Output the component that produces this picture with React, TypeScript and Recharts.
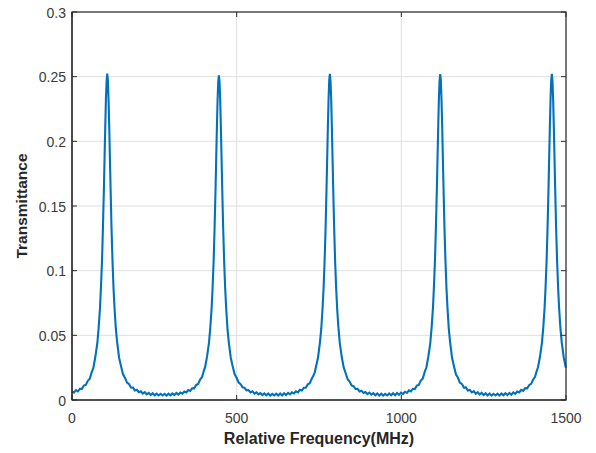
import React from 'react';
import { LineChart, Line, XAxis, YAxis, CartesianGrid, Label } from 'recharts';

// [relative frequency (MHz), transmittance], one list per resonance
const PEAK_1: [number, number][] = [
  [0, 0.0067], [6, 0.0057], [12, 0.0076], [18, 0.0067], [24, 0.0086], [30, 0.0086], [36, 0.0112],
  [42, 0.0117], [48, 0.0149], [54, 0.0165], [60, 0.0216], [65, 0.025], [71, 0.0336], [77, 0.0441],
  [81, 0.0562], [85, 0.071], [88, 0.0876], [91, 0.1068], [94, 0.1335], [97, 0.1645], [99, 0.1886],
  [101, 0.2112], [103, 0.2328], [105, 0.2462], [107, 0.2523], [109, 0.247], [111, 0.2318],
  [113, 0.212], [115, 0.1878], [117, 0.1652], [120, 0.1328], [123, 0.1075], [126, 0.0868],
  [129, 0.0717], [133, 0.0555], [137, 0.0449], [143, 0.0327], [149, 0.026], [155, 0.0198],
  [161, 0.0171], [167, 0.0134], [173, 0.0123], [179, 0.0097], [185, 0.0096], [191, 0.0074],
  [197, 0.0079], [203, 0.006], [209, 0.0068], [215, 0.005], [221, 0.006], [227, 0.0043],
  [233, 0.0055], [239, 0.0039], [245, 0.0052], [251, 0.0036], [257, 0.0049], [263, 0.0035],
  [269, 0.0048], [275, 0.0035],
];

const PEAK_2: [number, number][] = [
  [281, 0.0048], [287, 0.0034], [293, 0.0049], [299, 0.0036], [305, 0.0051], [311, 0.0038],
  [317, 0.0054], [323, 0.0042], [329, 0.0058], [335, 0.0049], [341, 0.0066], [347, 0.0058],
  [353, 0.0077], [359, 0.007], [365, 0.0091], [371, 0.009], [377, 0.0116], [383, 0.0124],
  [389, 0.0158], [395, 0.0178], [400, 0.0224], [404, 0.0252], [410, 0.0335], [416, 0.0443],
  [420, 0.0561], [424, 0.0712], [427, 0.0874], [430, 0.107], [433, 0.1334], [436, 0.1646],
  [438, 0.1884], [440, 0.2113], [442, 0.2316], [444, 0.2458], [446, 0.251], [448, 0.2462],
  [450, 0.2321], [452, 0.211], [454, 0.188], [456, 0.165], [459, 0.133], [462, 0.1072],
  [465, 0.087], [468, 0.0716], [472, 0.0556], [476, 0.0448], [482, 0.0329], [488, 0.0258],
  [494, 0.0199], [500, 0.017], [506, 0.0135], [512, 0.0122], [518, 0.0098], [524, 0.0094],
  [530, 0.0075], [536, 0.0077], [542, 0.0059], [548, 0.0067], [554, 0.0049], [560, 0.0059],
  [566, 0.0044], [572, 0.0054], [578, 0.0038], [584, 0.0051], [590, 0.0036], [596, 0.005],
  [602, 0.0034], [608, 0.0047], [614, 0.0036],
];

const PEAK_3: [number, number][] = [
  [620, 0.0049], [626, 0.0035], [632, 0.005], [638, 0.0035], [644, 0.0052], [650, 0.0039],
  [656, 0.0055], [662, 0.0043], [668, 0.0059], [674, 0.005], [680, 0.0067], [686, 0.0059],
  [692, 0.0079], [698, 0.0073], [704, 0.0095], [710, 0.0095], [716, 0.0121], [722, 0.013],
  [728, 0.0164], [734, 0.0194], [737, 0.0214], [741, 0.0257], [747, 0.0328], [753, 0.0448],
  [757, 0.0555], [761, 0.0717], [764, 0.0869], [767, 0.1074], [770, 0.1329], [773, 0.1651],
  [775, 0.1879], [777, 0.2119], [779, 0.232], [781, 0.2469], [783, 0.2522], [785, 0.2465],
  [787, 0.2326], [789, 0.2114], [791, 0.1885], [793, 0.1646], [796, 0.1334], [799, 0.1069],
  [802, 0.0873], [805, 0.0711], [809, 0.056], [813, 0.0443], [819, 0.0334], [825, 0.0252],
  [831, 0.0207], [837, 0.016], [843, 0.0143], [849, 0.0113], [855, 0.0107], [861, 0.0085],
  [867, 0.0086], [873, 0.0066], [879, 0.0072], [885, 0.0054], [891, 0.0062], [897, 0.0046],
  [903, 0.0057], [909, 0.0041], [915, 0.0053], [921, 0.0037], [927, 0.0051], [933, 0.0035],
  [939, 0.0049], [945, 0.0034], [951, 0.0047],
];

const PEAK_4: [number, number][] = [
  [957, 0.0035], [963, 0.005], [969, 0.0036], [975, 0.0052], [981, 0.0037], [987, 0.0054],
  [993, 0.004], [999, 0.0057], [1005, 0.0046], [1011, 0.0063], [1017, 0.0055], [1023, 0.0074],
  [1029, 0.0066], [1035, 0.0087], [1041, 0.0085], [1047, 0.0111], [1053, 0.0117], [1059, 0.015],
  [1065, 0.0164], [1071, 0.0217], [1076, 0.0251], [1082, 0.0335], [1088, 0.0442], [1092, 0.0561],
  [1096, 0.0711], [1099, 0.0875], [1102, 0.1069], [1105, 0.1335], [1108, 0.1644], [1110, 0.1887],
  [1112, 0.2111], [1114, 0.2327], [1116, 0.2463], [1118, 0.252], [1120, 0.247], [1122, 0.2319],
  [1124, 0.2121], [1126, 0.1877], [1128, 0.1653], [1131, 0.1327], [1134, 0.1076], [1137, 0.0867],
  [1140, 0.0718], [1144, 0.0554], [1148, 0.045], [1154, 0.0326], [1160, 0.0259], [1166, 0.0197],
  [1172, 0.0172], [1178, 0.0133], [1184, 0.0124], [1190, 0.0096], [1196, 0.0097], [1202, 0.0073],
  [1208, 0.0078], [1214, 0.0059], [1220, 0.0068], [1226, 0.0049], [1232, 0.0061], [1238, 0.0042],
  [1244, 0.0056], [1250, 0.0038], [1256, 0.0052], [1262, 0.0035], [1268, 0.005], [1274, 0.0034],
  [1280, 0.0048], [1286, 0.0035],
];

const PEAK_5: [number, number][] = [
  [1292, 0.0049], [1298, 0.0035], [1304, 0.005], [1310, 0.0036], [1316, 0.0052], [1322, 0.0038],
  [1328, 0.0055], [1334, 0.0041], [1340, 0.0059], [1346, 0.0048], [1352, 0.0066], [1358, 0.0059],
  [1364, 0.0078], [1370, 0.0071], [1376, 0.0092], [1382, 0.009], [1388, 0.0115], [1394, 0.0125],
  [1400, 0.0157], [1406, 0.0179], [1411, 0.0223], [1415, 0.0253], [1421, 0.0334], [1427, 0.0444],
  [1431, 0.056], [1435, 0.0713], [1438, 0.0873], [1441, 0.1071], [1444, 0.1333], [1447, 0.1647],
  [1449, 0.1883], [1451, 0.2115], [1453, 0.2321], [1455, 0.2466], [1457, 0.2522], [1459, 0.2464],
  [1461, 0.2324], [1463, 0.2113], [1465, 0.1883], [1467, 0.1648], [1470, 0.1331], [1473, 0.1073],
  [1476, 0.0871], [1479, 0.0715], [1483, 0.0557], [1487, 0.0447], [1493, 0.0331], [1499, 0.0256],
  [1500, 0.025],
];

const X_TICKS = [0, 500, 1000, 1500];
const Y_TICKS = [0, 0.05, 0.1, 0.15, 0.2, 0.25, 0.3];
const X_MAX = 1500;
const Y_MAX = 0.3;

const data = [...PEAK_1, ...PEAK_2, ...PEAK_3, ...PEAK_4, ...PEAK_5].map(([f, t]) => ({ f, t }));

// layout
const CHART_W = 580;
const CHART_H = 445;
const MARGIN = { top: 4, right: 22, bottom: 13, left: 4 };
const X_AXIS_H = 40;
const Y_AXIS_W = 60;
const PLOT_LEFT = MARGIN.left + Y_AXIS_W;
const PLOT_TOP = MARGIN.top;
const PLOT_RIGHT = CHART_W - MARGIN.right;
const PLOT_BOTTOM = CHART_H - MARGIN.bottom - X_AXIS_H;
const PLOT_W = PLOT_RIGHT - PLOT_LEFT;
const PLOT_H = PLOT_BOTTOM - PLOT_TOP;

const FONT = '"Liberation Sans", Arial, Helvetica, sans-serif';
const AXIS_COLOR = '#2b2b2b';
const TICK_TEXT = '#3a3a3a';
const TICK_LEN = 5;

const BottomTick = (props: any) => {
  const { x, y, payload } = props;
  return (
    <text x={x} y={y + 23} textAnchor="middle" fontSize={14} fill={TICK_TEXT} fontFamily={FONT}>
      {payload.value}
    </text>
  );
};

const LeftTick = (props: any) => {
  const { x, y, payload } = props;
  return (
    <text x={x - 6} y={y + 5.5} textAnchor="end" fontSize={14} fill={TICK_TEXT} fontFamily={FONT}>
      {payload.value}
    </text>
  );
};

const XLabel = (props: any) => {
  const vb = props.viewBox || { x: PLOT_LEFT, y: PLOT_BOTTOM, width: PLOT_W, height: X_AXIS_H };
  return (
    <text
      x={vb.x + vb.width / 2}
      y={vb.y + 44}
      textAnchor="middle"
      fontSize={16}
      fontWeight="bold"
      fill="#262626"
      fontFamily={FONT}
    >
      Relative Frequency(MHz)
    </text>
  );
};

const YLabel = (props: any) => {
  const vb = props.viewBox || { x: MARGIN.left, y: PLOT_TOP, width: Y_AXIS_W, height: PLOT_H };
  const cx = vb.x + 14.5;
  const cy = vb.y + vb.height / 2;
  return (
    <text
      x={cx}
      y={cy}
      transform={`rotate(-90, ${cx}, ${cy})`}
      textAnchor="middle"
      fontSize={15.5}
      fontWeight="bold"
      fill="#262626"
      fontFamily={FONT}
    >
      Transmittance
    </text>
  );
};

// MATLAB-style axes box with inward ticks on all four sides, drawn above the plot
const AxesBox = () => (
  <svg
    width={CHART_W}
    height={CHART_H}
    style={{ position: 'absolute', left: 0, top: 0, pointerEvents: 'none' }}
  >
    <rect
      x={PLOT_LEFT}
      y={PLOT_TOP}
      width={PLOT_W}
      height={PLOT_H}
      fill="none"
      stroke={AXIS_COLOR}
      strokeWidth={1.2}
    />
    {X_TICKS.map((v) => {
      const px = PLOT_LEFT + (v / X_MAX) * PLOT_W;
      return (
        <g key={`xt${v}`}>
          <line x1={px} x2={px} y1={PLOT_BOTTOM} y2={PLOT_BOTTOM - TICK_LEN} stroke={AXIS_COLOR} strokeWidth={1} />
          <line x1={px} x2={px} y1={PLOT_TOP} y2={PLOT_TOP + TICK_LEN} stroke={AXIS_COLOR} strokeWidth={1} />
        </g>
      );
    })}
    {Y_TICKS.map((v) => {
      const py = PLOT_BOTTOM - (v / Y_MAX) * PLOT_H;
      return (
        <g key={`yt${v}`}>
          <line x1={PLOT_LEFT} x2={PLOT_LEFT + TICK_LEN} y1={py} y2={py} stroke={AXIS_COLOR} strokeWidth={1} />
          <line x1={PLOT_RIGHT} x2={PLOT_RIGHT - TICK_LEN} y1={py} y2={py} stroke={AXIS_COLOR} strokeWidth={1} />
        </g>
      );
    })}
  </svg>
);

export default function App() {
  return (
    <div style={{ position: 'relative', width: CHART_W, height: CHART_H, background: '#fff' }}>
      <style>{'.recharts-surface { overflow: visible; }'}</style>
      <LineChart width={CHART_W} height={CHART_H} data={data} margin={MARGIN}>
        <CartesianGrid stroke="#dfdfdf" strokeWidth={1} />
        <XAxis
          dataKey="f"
          type="number"
          domain={[0, X_MAX]}
          ticks={X_TICKS}
          height={X_AXIS_H}
          tickSize={0}
          tickMargin={0}
          tickLine={false}
          tick={<BottomTick />}
          axisLine={{ stroke: AXIS_COLOR, strokeWidth: 1.2 }}
          interval={0}
        >
          <Label content={<XLabel />} />
        </XAxis>
        <YAxis
          type="number"
          domain={[0, Y_MAX]}
          ticks={Y_TICKS}
          width={Y_AXIS_W}
          tickSize={0}
          tickMargin={0}
          tickLine={false}
          tick={<LeftTick />}
          axisLine={{ stroke: AXIS_COLOR, strokeWidth: 1.2 }}
          interval={0}
        >
          <Label content={<YLabel />} />
        </YAxis>
        <Line
          type="linear"
          dataKey="t"
          stroke="#0072BD"
          strokeWidth={2.1}
          dot={false}
          activeDot={false}
          isAnimationActive={false}
        />
      </LineChart>
      <AxesBox />
    </div>
  );
}
